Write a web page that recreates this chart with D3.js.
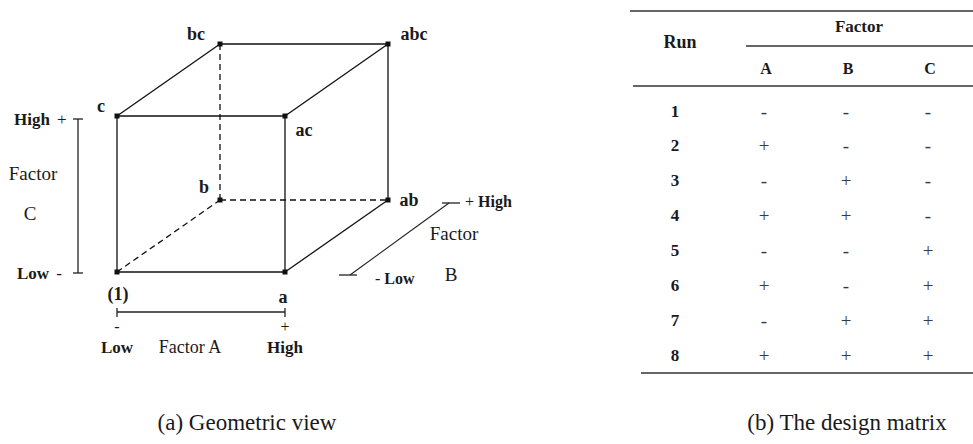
<!DOCTYPE html>
<html>
<head>
<meta charset="utf-8">
<script src="https://cdn.jsdelivr.net/npm/d3@7"></script>
<style>
  body { margin: 0; background: #fff; }
  svg { display: block; }
  text { font-family: "Liberation Serif", "DejaVu Serif", serif; fill: #1a1a1a; }
</style>
</head>
<body>
<svg id="chart" width="973" height="444"></svg>
<script>
// cube corners: level of factor A, B, C (0 = low, 1 = high) and treatment label
const corners = [
  { id: "(1)", A: 0, B: 0, C: 0 },
  { id: "a",   A: 1, B: 0, C: 0 },
  { id: "b",   A: 0, B: 1, C: 0 },
  { id: "ab",  A: 1, B: 1, C: 0 },
  { id: "c",   A: 0, B: 0, C: 1 },
  { id: "ac",  A: 1, B: 0, C: 1 },
  { id: "bc",  A: 0, B: 1, C: 1 },
  { id: "abc", A: 1, B: 1, C: 1 }
];
// edges of the cube, the hidden ones are dashed
const edges = [
  ["(1)", "a", false], ["c", "ac", false], ["(1)", "c", false], ["a", "ac", false],
  ["bc", "abc", false], ["abc", "ab", false], ["c", "bc", false], ["ac", "abc", false],
  ["a", "ab", false], ["(1)", "b", true], ["b", "ab", true], ["b", "bc", true]
];
// label offsets per corner (dx, dy)
const labelPos = {
  "(1)": [1, 22], "a": [-2, 25], "b": [-16, -13], "ab": [21, 0],
  "c": [-16, -10], "ac": [19, 14], "bc": [-24, -10], "abc": [26, -10]
};

// design matrix
const runs = [1, 2, 3, 4, 5, 6, 7, 8];
const factors = ["A", "B", "C"];
const signA = ["-", "+", "-", "+", "-", "+", "-", "+"];
const signB = ["-", "-", "+", "+", "-", "-", "+", "+"];
const signC = ["-", "-", "-", "-", "+", "+", "+", "+"];

const svg = d3.select("#chart");

// ---------- (a) geometric view ----------
const xA = d3.scaleLinear().domain([0, 1]).range([117, 285]);
const yC = d3.scaleLinear().domain([0, 1]).range([272, 116]);
// depth of factor B drawn as an oblique shift
const dB = d3.scaleLinear().domain([0, 1]).range([0, 1]);
const depth = { x: 103, y: -72 };

const px = d => xA(d.A) + dB(d.B) * depth.x;
const py = d => yC(d.C) + dB(d.B) * depth.y;
const byId = new Map(corners.map(d => [d.id, d]));

const cube = svg.append("g").attr("class", "cube");

cube.selectAll("line.edge")
  .data(edges)
  .join("line")
  .attr("class", "edge")
  .attr("x1", e => px(byId.get(e[0])))
  .attr("y1", e => py(byId.get(e[0])))
  .attr("x2", e => px(byId.get(e[1])))
  .attr("y2", e => py(byId.get(e[1])))
  .attr("stroke", "#111")
  .attr("stroke-width", 1.3)
  .attr("stroke-dasharray", e => e[2] ? "6,4" : null);

cube.selectAll("rect.corner")
  .data(corners)
  .join("rect")
  .attr("class", "corner")
  .attr("x", d => px(d) - 2.5)
  .attr("y", d => py(d) - 2.5)
  .attr("width", 5)
  .attr("height", 5)
  .attr("fill", "#111");

cube.selectAll("text.corner")
  .data(corners)
  .join("text")
  .attr("class", "corner")
  .attr("x", d => px(d) + labelPos[d.id][0])
  .attr("y", d => py(d) + labelPos[d.id][1])
  .attr("text-anchor", "middle")
  .attr("dominant-baseline", "central")
  .attr("font-weight", "bold")
  .attr("font-size", 18)
  .text(d => d.id);

// factor A axis
const axA = svg.append("g");
axA.append("line")
  .attr("x1", xA(0)).attr("x2", xA(1)).attr("y1", 312).attr("y2", 312)
  .attr("stroke", "#222").attr("stroke-width", 1.3);
axA.selectAll("line.tick").data([0, 1]).join("line")
  .attr("x1", d => xA(d)).attr("x2", d => xA(d)).attr("y1", 308).attr("y2", 317)
  .attr("stroke", "#222").attr("stroke-width", 1.3);
axA.selectAll("text.sign").data([[0, "-"], [1, "+"]]).join("text")
  .attr("x", d => xA(d[0])).attr("y", 326)
  .attr("text-anchor", "middle").attr("dominant-baseline", "central")
  .attr("font-size", 16).text(d => d[1]);
axA.selectAll("text.lvl").data([[0, "Low"], [1, "High"]]).join("text")
  .attr("x", d => xA(d[0])).attr("y", 347)
  .attr("text-anchor", "middle").attr("dominant-baseline", "central")
  .attr("font-weight", "bold").attr("font-size", 17).text(d => d[1]);
axA.append("text")
  .attr("x", 190).attr("y", 347)
  .attr("text-anchor", "middle").attr("dominant-baseline", "central")
  .attr("font-size", 18).text("Factor A");

// factor C axis
const axC = svg.append("g");
axC.append("line")
  .attr("x1", 78).attr("x2", 78).attr("y1", yC(1) + 3).attr("y2", yC(0) + 1)
  .attr("stroke", "#222").attr("stroke-width", 1.3);
axC.selectAll("line.tick").data([1, 0]).join("line")
  .attr("x1", 73).attr("x2", 83)
  .attr("y1", (d, i) => i ? yC(d) + 1 : yC(d) + 3)
  .attr("y2", (d, i) => i ? yC(d) + 1 : yC(d) + 3)
  .attr("stroke", "#222").attr("stroke-width", 1.3);
axC.selectAll("text.lvl").data([[1, "High", "+"], [0, "Low", "-"]]).join("text")
  .attr("x", (d, i) => i ? 17 : 14).attr("y", (d, i) => yC(d[0]) + (i ? 1 : 3))
  .attr("dominant-baseline", "central")
  .attr("font-size", 17)
  .call(t => t.append("tspan").attr("font-weight", "bold").text(d => d[1]))
  .call(t => t.append("tspan").attr("dx", 7).text(d => d[2]));
axC.append("text").attr("x", 33).attr("y", 173)
  .attr("text-anchor", "middle").attr("dominant-baseline", "central")
  .attr("font-size", 19).text("Factor");
axC.append("text").attr("x", 30).attr("y", 213)
  .attr("text-anchor", "middle").attr("dominant-baseline", "central")
  .attr("font-size", 19).text("C");

// factor B axis, parallel to the depth edges
const b0 = { x: 350, y: 275 };
const axB = svg.append("g");
axB.append("line")
  .attr("x1", b0.x).attr("y1", b0.y)
  .attr("x2", b0.x + dB(1) * depth.x - 4).attr("y2", b0.y + dB(1) * depth.y)
  .attr("stroke", "#222").attr("stroke-width", 1.1);
axB.selectAll("line.tick").data([0, 1]).join("line")
  .attr("x1", d => b0.x + dB(d) * depth.x - 11)
  .attr("x2", d => b0.x + dB(d) * depth.x + 7)
  .attr("y1", d => b0.y + dB(d) * depth.y)
  .attr("y2", d => b0.y + dB(d) * depth.y)
  .attr("stroke", "#222").attr("stroke-width", 1.3);
axB.append("text").attr("x", 465).attr("y", 201)
  .attr("dominant-baseline", "central").attr("font-size", 16)
  .call(t => t.append("tspan").text("+ "))
  .call(t => t.append("tspan").attr("font-weight", "bold").text("High"));
axB.append("text").attr("x", 375).attr("y", 278)
  .attr("dominant-baseline", "central").attr("font-size", 16)
  .call(t => t.append("tspan").text("- "))
  .call(t => t.append("tspan").attr("font-weight", "bold").text("Low"));
axB.append("text").attr("x", 454).attr("y", 233)
  .attr("text-anchor", "middle").attr("dominant-baseline", "central")
  .attr("font-size", 19).text("Factor");
axB.append("text").attr("x", 451).attr("y", 274)
  .attr("text-anchor", "middle").attr("dominant-baseline", "central")
  .attr("font-size", 19).text("B");

// ---------- (b) design matrix ----------
const colX = d3.scalePoint().domain(factors).range([764, 928]);
const rowY = d3.scalePoint().domain(runs).range([111, 355]);
const runX = 679;
const tbl = svg.append("g").attr("class", "table");

const rules = [
  { x1: 630, x2: 973, y: 11 },
  { x1: 746, x2: 973, y: 46 },
  { x1: 633, x2: 973, y: 86 },
  { x1: 641, x2: 973, y: 373 }
];
tbl.selectAll("line.rule").data(rules).join("line")
  .attr("x1", d => d.x1).attr("x2", d => d.x2)
  .attr("y1", d => d.y).attr("y2", d => d.y)
  .attr("stroke", "#333").attr("stroke-width", 1.6);

tbl.append("text").attr("x", runX + 1).attr("y", 42)
  .attr("text-anchor", "middle").attr("dominant-baseline", "central")
  .attr("font-weight", "bold").attr("font-size", 18).text("Run");
tbl.append("text").attr("x", 859).attr("y", 26)
  .attr("text-anchor", "middle").attr("dominant-baseline", "central")
  .attr("font-weight", "bold").attr("font-size", 17).text("Factor");
tbl.selectAll("text.head").data(factors).join("text")
  .attr("class", "head")
  .attr("x", d => colX(d) + 2).attr("y", 68)
  .attr("text-anchor", "middle").attr("dominant-baseline", "central")
  .attr("font-weight", "bold").attr("font-size", 16).text(d => d);

tbl.selectAll("text.run").data(runs).join("text")
  .attr("class", "run")
  .attr("x", runX - 4).attr("y", d => rowY(d))
  .attr("text-anchor", "middle").attr("dominant-baseline", "central")
  .attr("font-weight", "bold").attr("font-size", 17).text(d => d);

const cells = [];
runs.forEach((r, i) => {
  cells.push({ run: r, f: "A", s: signA[i] });
  cells.push({ run: r, f: "B", s: signB[i] });
  cells.push({ run: r, f: "C", s: signC[i] });
});
tbl.selectAll("text.cell").data(cells).join("text")
  .attr("class", "cell")
  .attr("x", d => colX(d.f)).attr("y", d => rowY(d.run))
  .attr("text-anchor", "middle").attr("dominant-baseline", "central")
  .attr("font-size", 19).style("fill", "#3a3a3a").text(d => d.s);

// ---------- captions ----------
const captions = [
  { x: 247, text: "(a) Geometric view" },
  { x: 847, text: "(b) The design matrix" }
];
svg.selectAll("text.caption").data(captions).join("text")
  .attr("class", "caption")
  .attr("x", d => d.x).attr("y", 422)
  .attr("text-anchor", "middle").attr("dominant-baseline", "central")
  .attr("font-size", 23).text(d => d.text);
</script>
</body>
</html>
